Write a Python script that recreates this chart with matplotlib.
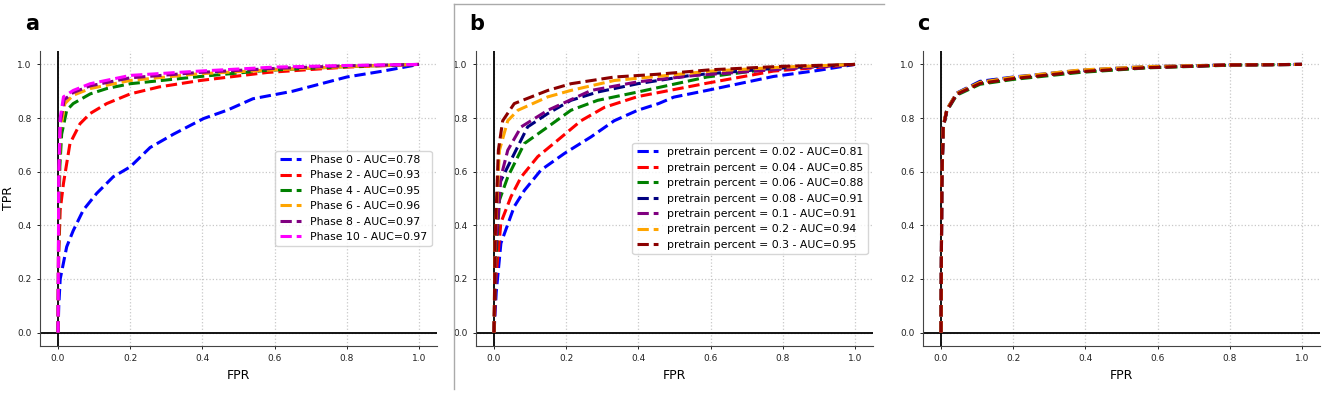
import matplotlib
matplotlib.use("Agg")
import matplotlib.pyplot as plt
from matplotlib.lines import Line2D

# ---------------- Panel a data ----------------
a_labels = ["Phase 0 - AUC=0.78", "Phase 2 - AUC=0.93", "Phase 4 - AUC=0.95",
            "Phase 6 - AUC=0.96", "Phase 8 - AUC=0.97", "Phase 10 - AUC=0.97"]
a_colors = ["blue", "red", "green", "orange", "purple", "magenta"]
a_fpr_0 = [0, 0.002, 0.006, 0.024, 0.042, 0.07, 0.107, 0.153, 0.2, 0.255, 0.32, 0.403, 0.47, 0.54, 0.65, 0.8, 0.9, 1.0]
a_tpr_0 = [0, 0.1, 0.2, 0.32, 0.38, 0.457, 0.519, 0.581, 0.618, 0.69, 0.74, 0.798, 0.83, 0.872, 0.9, 0.953, 0.975, 1.0]
a_fpr_2 = [0, 0.002, 0.006, 0.015, 0.033, 0.061, 0.089, 0.135, 0.2, 0.28, 0.394, 0.58, 0.8, 1.0]
a_tpr_2 = [0, 0.3, 0.457, 0.556, 0.705, 0.779, 0.817, 0.854, 0.89, 0.916, 0.94, 0.97, 0.99, 1.0]
a_fpr_4 = [0, 0.002, 0.005, 0.01, 0.024, 0.042, 0.089, 0.135, 0.2, 0.394, 0.58, 0.8, 1.0]
a_tpr_4 = [0, 0.4, 0.62, 0.74, 0.829, 0.854, 0.89, 0.91, 0.928, 0.955, 0.978, 0.992, 1.0]
a_fpr_6 = [0, 0.002, 0.006, 0.019, 0.042, 0.089, 0.2, 0.39, 0.6, 0.8, 1.0]
a_tpr_6 = [0, 0.5, 0.75, 0.854, 0.885, 0.91, 0.94, 0.965, 0.98, 0.992, 1.0]
a_fpr_8 = [0, 0.002, 0.006, 0.017, 0.042, 0.089, 0.2, 0.39, 0.6, 0.8, 1.0]
a_tpr_8 = [0, 0.55, 0.78, 0.868, 0.895, 0.92, 0.95, 0.97, 0.985, 0.995, 1.0]
a_fpr_10 = [0, 0.002, 0.006, 0.015, 0.042, 0.089, 0.2, 0.39, 0.6, 0.8, 1.0]
a_tpr_10 = [0, 0.6, 0.8, 0.879, 0.903, 0.928, 0.959, 0.975, 0.99, 0.996, 1.0]
a_fprs = [a_fpr_0, a_fpr_2, a_fpr_4, a_fpr_6, a_fpr_8, a_fpr_10]
a_tprs = [a_tpr_0, a_tpr_2, a_tpr_4, a_tpr_6, a_tpr_8, a_tpr_10]

# ---------------- Panel b data ----------------
b_labels = ["pretrain percent = 0.02 - AUC=0.81", "pretrain percent = 0.04 - AUC=0.85",
            "pretrain percent = 0.06 - AUC=0.88", "pretrain percent = 0.08 - AUC=0.91",
            "pretrain percent = 0.1 - AUC=0.91", "pretrain percent = 0.2 - AUC=0.94",
            "pretrain percent = 0.3 - AUC=0.95"]
b_colors = ["blue", "red", "green", "navy", "purple", "orange", "darkred"]
b_fpr_02 = [0, 0.006, 0.019, 0.056, 0.084, 0.13, 0.195, 0.269, 0.333, 0.398, 0.456, 0.498, 0.59, 0.774, 0.9, 1.0]
b_tpr_02 = [0, 0.15, 0.333, 0.47, 0.53, 0.606, 0.668, 0.73, 0.79, 0.829, 0.854, 0.878, 0.903, 0.955, 0.978, 1.0]
b_fpr_04 = [0, 0.005, 0.019, 0.047, 0.075, 0.121, 0.176, 0.241, 0.306, 0.398, 0.59, 0.774, 1.0]
b_tpr_04 = [0, 0.2, 0.41, 0.507, 0.58, 0.656, 0.717, 0.79, 0.84, 0.88, 0.93, 0.975, 1.0]
b_fpr_06 = [0, 0.004, 0.015, 0.038, 0.084, 0.149, 0.213, 0.287, 0.398, 0.59, 0.774, 1.0]
b_tpr_06 = [0, 0.25, 0.494, 0.58, 0.705, 0.767, 0.829, 0.866, 0.897, 0.953, 0.985, 1.0]
b_fpr_08 = [0, 0.004, 0.015, 0.047, 0.093, 0.149, 0.213, 0.287, 0.398, 0.55, 0.774, 1.0]
b_tpr_08 = [0, 0.3, 0.556, 0.643, 0.767, 0.817, 0.866, 0.897, 0.928, 0.96, 0.985, 1.0]
b_fpr_1 = [0, 0.004, 0.019, 0.038, 0.075, 0.149, 0.269, 0.398, 0.55, 0.774, 1.0]
b_tpr_1 = [0, 0.3, 0.58, 0.68, 0.767, 0.829, 0.903, 0.935, 0.958, 0.98, 1.0]
b_fpr_2 = [0, 0.003, 0.015, 0.038, 0.066, 0.149, 0.213, 0.333, 0.45, 0.6, 0.8, 1.0]
b_tpr_2 = [0, 0.35, 0.68, 0.79, 0.829, 0.879, 0.903, 0.94, 0.955, 0.975, 0.99, 1.0]
b_fpr_3 = [0, 0.003, 0.012, 0.024, 0.056, 0.149, 0.213, 0.333, 0.45, 0.6, 0.8, 1.0]
b_tpr_3 = [0, 0.35, 0.68, 0.79, 0.854, 0.903, 0.928, 0.953, 0.963, 0.98, 0.993, 1.0]
b_fprs = [b_fpr_02, b_fpr_04, b_fpr_06, b_fpr_08, b_fpr_1, b_fpr_2, b_fpr_3]
b_tprs = [b_tpr_02, b_tpr_04, b_tpr_06, b_tpr_08, b_tpr_1, b_tpr_2, b_tpr_3]

# ---------------- Panel c data ----------------
c_colors = ["blue", "red", "green", "navy", "purple", "orange", "darkred"]
c_fpr = [0, 0.002, 0.006, 0.016, 0.043, 0.108, 0.2, 0.384, 0.57, 0.8, 1.0]
c_tpr_1 = [0, 0.55, 0.77, 0.832, 0.893, 0.937, 0.953, 0.978, 0.992, 0.998, 1.0]
c_tpr_2 = [0, 0.55, 0.767, 0.829, 0.889, 0.930, 0.948, 0.974, 0.989, 0.998, 1.0]
c_tpr_3 = [0, 0.54, 0.762, 0.825, 0.885, 0.926, 0.944, 0.970, 0.987, 0.997, 1.0]
c_tpr_4 = [0, 0.55, 0.768, 0.830, 0.891, 0.935, 0.951, 0.976, 0.990, 0.998, 1.0]
c_tpr_5 = [0, 0.55, 0.765, 0.828, 0.888, 0.931, 0.949, 0.975, 0.989, 0.998, 1.0]
c_tpr_6 = [0, 0.56, 0.772, 0.833, 0.892, 0.933, 0.952, 0.979, 0.992, 0.998, 1.0]
c_tpr_7 = [0, 0.55, 0.767, 0.829, 0.889, 0.929, 0.947, 0.973, 0.988, 0.998, 1.0]
c_tprs = [c_tpr_1, c_tpr_2, c_tpr_3, c_tpr_4, c_tpr_5, c_tpr_6, c_tpr_7]

ticks = [0.0, 0.2, 0.4, 0.6, 0.8, 1.0]
tick_labels = ["0.0", "0.2", "0.4", "0.6", "0.8", "1.0"]

fig = plt.figure(figsize=(13.25, 3.93), dpi=100)
lefts = [40 / 1325, 476 / 1325, 923 / 1325]
w = 397 / 1325
bottom = 1 - 346 / 393
h = 295 / 393
axes = [fig.add_axes([l, bottom, w, h]) for l in lefts]


def style(ax):
    ax.set_xlim(-0.05, 1.05)
    ax.set_ylim(-0.05, 1.05)
    ax.grid(True, linestyle=':', color='#c8c8c8', linewidth=0.9)
    ax.set_axisbelow(True)
    ax.axhline(0, color='black', linewidth=1.3, zorder=1)
    ax.axvline(0, color='black', linewidth=1.3, zorder=1)
    ax.spines['top'].set_visible(False)
    ax.spines['right'].set_visible(False)
    ax.spines['left'].set_color('#444444')
    ax.spines['bottom'].set_color('#444444')
    ax.set_xticks(ticks)
    ax.set_xticklabels(tick_labels)
    ax.set_yticks(ticks)
    ax.set_yticklabels(tick_labels)
    ax.tick_params(labelsize=6.5, length=2.5, width=0.7, colors='#222222')
    ax.set_xlabel("FPR", fontsize=9)


for ax in axes:
    style(ax)

ax = axes[0]
for f, t, c, lab in zip(a_fprs, a_tprs, a_colors, a_labels):
    ax.plot(f, t, linestyle='--', color=c, linewidth=2.2, label=lab)
ax.legend(loc='center right', fontsize=7.8, handlelength=2.0)
ax.set_ylabel("TPR", fontsize=9)
ax.yaxis.set_label_coords(-0.062, 0.5)

ax = axes[1]
for f, t, c, lab in zip(b_fprs, b_tprs, b_colors, b_labels):
    ax.plot(f, t, linestyle='--', color=c, linewidth=2.2, label=lab)
ax.legend(loc='center right', fontsize=7.8, handlelength=2.0)

ax = axes[2]
for t, c in zip(c_tprs, c_colors):
    ax.plot(c_fpr, t, linestyle='--', color=c, linewidth=2.2)

for x, lab in zip([32, 477, 923], ["a", "b", "c"]):
    fig.text(x / 1325, 1 - 24 / 393, lab, fontsize=15, fontweight='bold',
             ha='center', va='center')

# grey frame edges around panel b
fig.add_artist(Line2D([454 / 1325, 454 / 1325], [1 - 4 / 393, 1 - 389 / 393],
                      transform=fig.transFigure, color='#aaaaaa', linewidth=1))
fig.add_artist(Line2D([454 / 1325, 884 / 1325], [1 - 4 / 393, 1 - 4 / 393],
                      transform=fig.transFigure, color='#aaaaaa', linewidth=1))

fig.savefig("out.png", dpi=100)
